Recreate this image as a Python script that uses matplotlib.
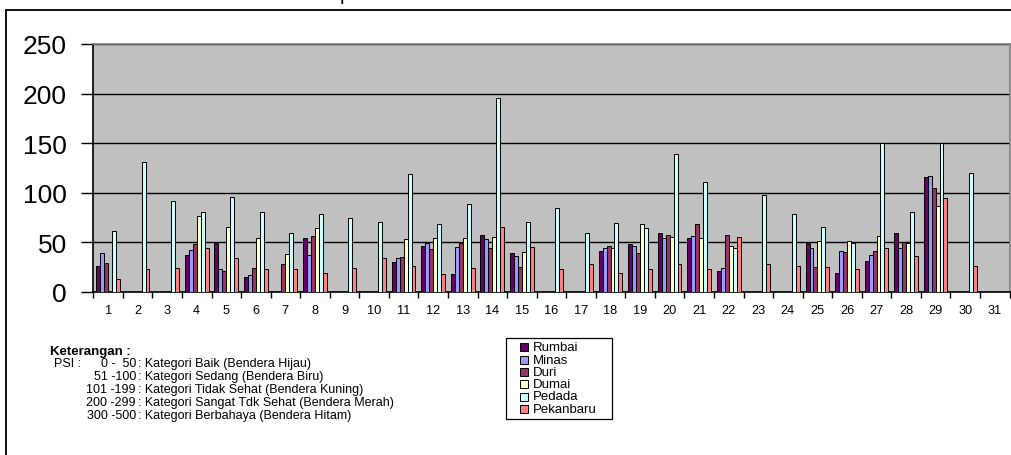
import numpy as np
import matplotlib
matplotlib.use("Agg")
import matplotlib.pyplot as plt
from matplotlib.patches import Rectangle
from matplotlib.lines import Line2D

plt.rcParams['font.family'] = ['Liberation Sans', 'DejaVu Sans']

nan = np.nan
days = [str(d) for d in range(1, 32)]  # tanggal 1..31

# ISPU harian per stasiun
rumbai = [26, nan, nan, 37, 49, 15, nan, 54, nan, nan, 30, 46, 18, 57, 39, nan,
          nan, 41, 48, 59, 54, 21, nan, nan, 49, 19, 31, 59, 116, nan, nan]
minas = [39, nan, nan, 42, 23, 17, nan, 37, nan, nan, 34, 49, 45, 53, 36, nan,
         nan, 44, 46, 54, 56, 24, nan, nan, 44, 41, 37, 44, 117, nan, nan]
duri = [29, nan, nan, 48, 21, 24, 28, 56, nan, nan, 35, 43, 49, 44, 25, nan,
        nan, 46, 39, 57, 68, 57, nan, nan, 25, 40, 41, 50, 105, nan, nan]
dumai = [nan, nan, nan, 76, 65, 54, 38, 64, nan, nan, 53, 54, 54, 55, 40, nan,
         nan, 44, 68, 55, 54, 46, nan, nan, 51, 51, 56, 49, 87, nan, nan]
pedada = [61, 131, 92, 80, 96, 80, 59, 78, 74, 70, 119, 68, 89, 196, 70, 84,
          59, 69, 64, 139, 111, 44, 98, 78, 65, 49, 150, 80, 150, 120, nan]
pekanbaru = [13, 23, 24, 44, 34, 23, 23, 19, 24, 34, 26, 18, 24, 65, 45, 23,
             28, 19, 23, 28, 23, 55, 28, 26, 25, 23, 44, 36, 95, 26, nan]

series = [rumbai, minas, duri, dumai, pedada, pekanbaru]
names = ['Rumbai', 'Minas', 'Duri', 'Dumai', 'Pedada', 'Pekanbaru']
colors = ['#660066', '#9999FF', '#993366', '#FFFFCC', '#CCFFFF', '#FF8080']

ranges = ['0 -  50', '51 -100', '101 -199', '200 -299', '300 -500']
descs = [': Kategori Baik (Bendera Hijau)',
         ': Kategori Sedang (Bendera Biru)',
         ': Kategori Tidak Sehat (Bendera Kuning)',
         ': Kategori Sangat Tdk Sehat (Bendera Merah)',
         ': Kategori Berbahaya (Bendera Hitam)']

W, H = 1011, 456


def fx(px):
    return px / W


def fy(py):
    return 1 - py / H


fig = plt.figure(figsize=(W / 100, H / 100), dpi=100)
ax = fig.add_axes([fx(93.3), fy(292.7), fx(1009.5) - fx(93.3), fy(45) - fy(292.7)])
ax.set_facecolor('#C0C0C0')

x = np.arange(len(days))
bw = 1 / 7.5
for i, (vals, name, col) in enumerate(zip(series, names, colors)):
    ax.bar(x + (i - 2.5) * bw, vals, width=bw, color=col, edgecolor='black',
           linewidth=0.7, label=name, zorder=3)

ax.set_xlim(-0.5, len(days) - 0.5)
ax.set_ylim(0, 250)
ax.set_yticks(np.arange(0, 251, 50))
ax.yaxis.grid(True, color='black', linewidth=1.0, zorder=1)
ax.set_axisbelow(True)

ax.set_xticks(x)
ax.set_xticklabels(days, fontsize=9.2)
ax.set_xticks(np.arange(-0.5, len(days)), minor=True)
ax.tick_params(axis='x', which='major', length=0, pad=9)
ax.tick_params(axis='x', which='minor', length=4, width=1, color='black')
ax.tick_params(axis='y', length=9, width=1, labelsize=19, pad=10)

for s in ['top', 'right']:
    ax.spines[s].set_color('#808080')
    ax.spines[s].set_linewidth(1.2)
ax.spines['left'].set_linewidth(1.2)
ax.spines['bottom'].set_linewidth(1.2)

# bingkai luar
fig.add_artist(Line2D([fx(5.5), fx(5.5)], [fy(10.7), 0], color='black', lw=1.3,
                      transform=fig.transFigure))
fig.add_artist(Line2D([fx(5.5), 1], [fy(10.7), fy(10.7)], color='black', lw=1.3,
                      transform=fig.transFigure))
fig.text(fx(340), 1.0, 'p', fontsize=14, va='baseline', ha='left')

# legenda
fig.add_artist(Rectangle((fx(506), fy(420)), fx(611.7) - fx(506), fy(339) - fy(420),
                         facecolor='white', edgecolor='black', lw=0.9,
                         transform=fig.transFigure))
for i, (name, col) in enumerate(zip(names, colors)):
    yc = 348.3 + 12.3 * i
    fig.add_artist(Rectangle((fx(520), fy(yc + 4)), fx(528) - fx(520), fy(yc - 4) - fy(yc + 4),
                             facecolor=col, edgecolor='black', lw=0.7,
                             transform=fig.transFigure))
    fig.text(fx(533), fy(yc), name, fontsize=9.5, va='center', ha='left')

# keterangan ISPU
fig.text(fx(50), fy(351.7), 'Keterangan :', fontsize=9.5, fontweight='bold', va='center')
fig.text(fx(54), fy(364.3), 'PSI :', fontsize=9, va='center')
for i, (r, d) in enumerate(zip(ranges, descs)):
    yc = 364.3 + 12.9 * i
    fig.text(fx(136), fy(yc), r, fontsize=9, va='center', ha='right')
    fig.text(fx(138), fy(yc), d, fontsize=9, va='center', ha='left')

fig.savefig('out.png', dpi=100)
